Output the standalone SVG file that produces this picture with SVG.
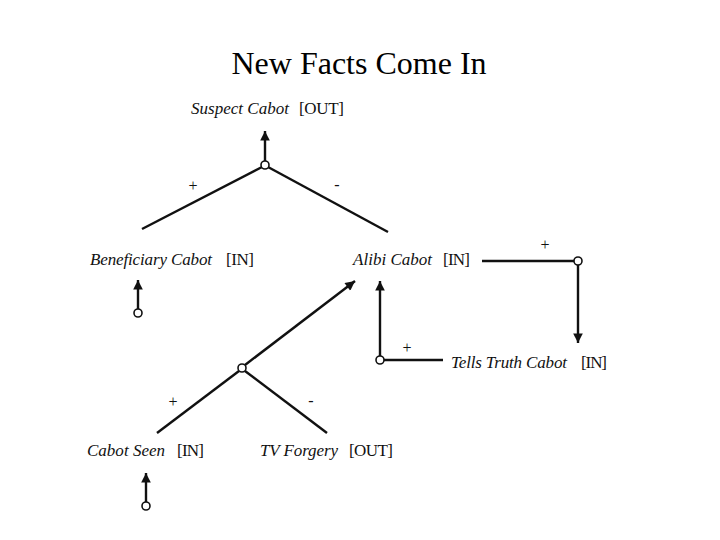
<svg xmlns="http://www.w3.org/2000/svg" width="720" height="540" viewBox="0 0 720 540">
<style>
.t{font-family:"Liberation Serif","Times New Roman",serif;font-size:17px;fill:#111}
.i{font-style:italic}
.s{font-family:"Liberation Serif","Times New Roman",serif;font-size:16px;fill:#111}
.l{stroke:#111;stroke-width:2.4;fill:none}
.c{stroke:#111;stroke-width:1.6;fill:#fff}
</style>
<defs>
<marker id="ah" viewBox="0 0 10 10" refX="10" refY="5" markerWidth="5" markerHeight="4" orient="auto" markerUnits="strokeWidth">
<path d="M0,0 L10,5 L0,10 z" fill="#111"/>
</marker>
</defs>
<rect width="720" height="540" fill="#fff"/>
<text x="359" y="74" text-anchor="middle" font-family="Liberation Serif,serif" font-size="32" fill="#000">New Facts Come In</text>
<g id="connectors">
<line class="l" x1="265" y1="161" x2="265" y2="131" marker-end="url(#ah)"/>
<line class="l" x1="262" y1="167" x2="142" y2="229"/>
<line class="l" x1="268" y1="167" x2="388" y2="232"/>
<text class="s" x="193" y="191" text-anchor="middle">+</text>
<text class="s" x="337" y="190" text-anchor="middle">-</text>
<line class="l" x1="138" y1="309" x2="138" y2="280" marker-end="url(#ah)"/>
<line class="l" x1="482" y1="261" x2="574" y2="261"/>
<text class="s" x="545" y="250" text-anchor="middle">+</text>
<line class="l" x1="578" y1="265" x2="578" y2="343" marker-end="url(#ah)"/>
<line class="l" x1="443" y1="360" x2="384" y2="360"/>
<text class="s" x="407" y="353" text-anchor="middle">+</text>
<line class="l" x1="380" y1="356" x2="380" y2="281" marker-end="url(#ah)"/>
<line class="l" x1="245" y1="365" x2="355" y2="281" marker-end="url(#ah)"/>
<line class="l" x1="239" y1="371" x2="157" y2="433"/>
<line class="l" x1="245" y1="371" x2="327" y2="433"/>
<text class="s" x="173" y="407" text-anchor="middle">+</text>
<text class="s" x="311" y="406" text-anchor="middle">-</text>
<line class="l" x1="146" y1="502" x2="146" y2="473" marker-end="url(#ah)"/>
<circle class="c" cx="265" cy="165" r="4"/>
<circle class="c" cx="138" cy="313" r="4"/>
<circle class="c" cx="578" cy="261" r="4"/>
<circle class="c" cx="380" cy="360" r="4"/>
<circle class="c" cx="242" cy="368" r="4"/>
<circle class="c" cx="146" cy="506" r="4"/>
</g>
<g id="suspect"><text class="t" x="191" y="114"><tspan class="i" textLength="98">Suspect Cabot</tspan><tspan x="299" textLength="45">[OUT]</tspan></text></g>
<g id="beneficiary"><text class="t" x="90" y="265"><tspan class="i" textLength="122">Beneficiary Cabot</tspan><tspan x="226" textLength="28">[IN]</tspan></text></g>
<g id="alibi"><text class="t" x="353" y="265"><tspan class="i" textLength="79">Alibi Cabot</tspan><tspan x="443" textLength="27">[IN]</tspan></text></g>
<g id="tells"><text class="t" x="451" y="368"><tspan class="i" textLength="116">Tells Truth Cabot</tspan><tspan x="581" textLength="26">[IN]</tspan></text></g>
<g id="seen"><text class="t" x="87" y="456"><tspan class="i" textLength="78">Cabot Seen</tspan><tspan x="177" textLength="27">[IN]</tspan></text></g>
<g id="tv"><text class="t" x="260" y="456"><tspan class="i" textLength="78">TV Forgery</tspan><tspan x="349" textLength="44">[OUT]</tspan></text></g>
</svg>
